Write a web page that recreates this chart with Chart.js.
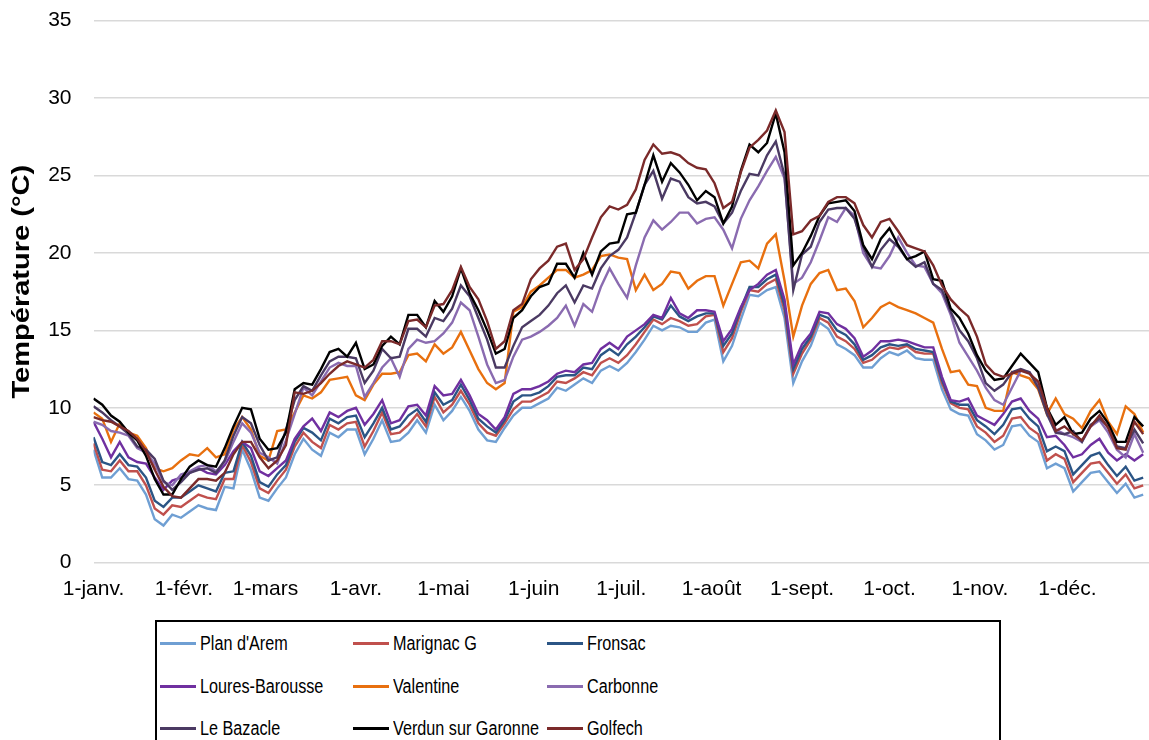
<!DOCTYPE html>
<html lang="fr">
<head>
<meta charset="utf-8">
<title>Température journalière moyenne</title>
<script src="https://cdn.jsdelivr.net/npm/chart.js@4.4.1/dist/chart.umd.min.js"></script>
<style>
  html, body { margin: 0; padding: 0; background: #ffffff; overflow: hidden; }
  #wrap { position: relative; width: 1149px; height: 740px; }
  #chart { position: absolute; left: 0; top: 0; }
  #legend {
    position: absolute; left: 155px; top: 620px; width: 846px; height: 140px;
    border: 2px solid #000; box-sizing: border-box; background: #fff;
    font-family: "Liberation Sans", Arial, Helvetica, sans-serif;
    font-size: 20px; color: #000;
  }
  .item { position: absolute; height: 24px; line-height: 24px; white-space: nowrap; }
  .swatch { position: absolute; left: 0; top: 11px; width: 36px; height: 3px; }
  .lbl { position: absolute; left: 40px; top: 0; transform: scaleX(0.81); transform-origin: 0 50%; }
</style>
</head>
<body>
<div id="wrap">
  <canvas id="chart" width="1149" height="740"></canvas>
  <div id="legend"></div>
</div>
<script>
// Day of year (0 = 1 January) of each sample
const sampleDays = [
  0, 3, 6, 9, 12, 15, 18, 21, 24, 27,
  30, 33, 36, 39, 42, 45, 48, 51, 54, 57,
  60, 63, 66, 69, 72, 75, 78, 81, 84, 87,
  90, 93, 96, 99, 102, 105, 108, 111, 114, 117,
  120, 123, 126, 129, 132, 135, 138, 141, 144, 147,
  150, 153, 156, 159, 162, 165, 168, 171, 174, 177,
  180, 183, 186, 189, 192, 195, 198, 201, 204, 207,
  210, 213, 216, 219, 222, 225, 228, 231, 234, 237,
  240, 243, 246, 249, 252, 255, 258, 261, 264, 267,
  270, 273, 276, 279, 282, 285, 288, 291, 294, 297,
  300, 303, 306, 309, 312, 315, 318, 321, 324, 327,
  330, 333, 336, 339, 342, 345, 348, 351, 354, 357,
  360
];

// Month tick positions (day of year) and their labels
const monthDays = [0, 31, 59, 90, 120, 151, 181, 212, 243, 273, 304, 334];
const monthLabels = ['1-janv.', '1-févr.', '1-mars', '1-avr.', '1-mai', '1-juin',
                     '1-juil.', '1-août', '1-sept.', '1-oct.', '1-nov.', '1-déc.'];

// Temperature axis ticks
const yTicks = [0, 5, 10, 15, 20, 25, 30, 35];
const yTitle = 'Température (°C)';

// Station names and line colours
const stations = ['Plan d\'Arem', 'Marignac G', 'Fronsac', 'Loures-Barousse', 'Valentine',
                  'Carbonne', 'Le Bazacle', 'Verdun sur Garonne', 'Golfech'];
const colors = ['#6f9fd3', '#c0504d', '#2b5585', '#7030a0', '#e8700f',
                '#8a6bb0', '#4b3a63', '#000000', '#7b2a2a'];

// Mean water temperature (°C) per station
const planDArem = [
  7.3, 5.5, 5.5, 6.1, 5.4, 5.3, 4.4, 2.8, 2.4, 3.1,
  2.9, 3.3, 3.7, 3.5, 3.4, 4.9, 4.8, 7.3, 6.0, 4.2,
  4.0, 4.8, 5.5, 7.0, 8.0, 7.3, 6.9, 8.4, 8.1, 8.6,
  8.6, 7.0, 8.0, 9.2, 7.8, 7.9, 8.4, 9.2, 8.4, 10.2,
  9.2, 9.8, 10.7, 9.8, 8.6, 7.9, 7.8, 8.7, 9.5, 10.0,
  10.0, 10.3, 10.6, 11.3, 11.1, 11.5, 11.9, 11.6, 12.4, 12.7,
  12.4, 12.9, 13.6, 14.4, 15.3, 15.0, 15.3, 15.2, 14.9, 14.9,
  15.5, 15.7, 13.0, 14.0, 15.7, 17.3, 17.2, 17.6, 17.8, 15.8,
  11.6, 13.0, 14.0, 15.5, 15.1, 14.1, 13.8, 13.4, 12.6, 12.6,
  13.2, 13.6, 13.4, 13.7, 13.2, 13.1, 13.1, 11.2, 9.9, 9.6,
  9.5, 8.3, 7.9, 7.3, 7.6, 8.8, 8.9, 8.2, 7.8, 6.1,
  6.4, 6.1, 4.6, 5.2, 5.8, 5.9, 5.2, 4.5, 5.1, 4.2,
  4.4
];
const marignacG = [
  7.7, 6.0, 5.9, 6.6, 5.9, 5.9, 5.0, 3.5, 3.1, 3.7,
  3.6, 4.0, 4.4, 4.2, 4.1, 5.4, 5.4, 7.6, 6.5, 4.8,
  4.5, 5.3, 6.0, 7.5, 8.4, 7.8, 7.4, 8.9, 8.6, 9.0,
  9.1, 7.5, 8.5, 9.7, 8.3, 8.4, 8.9, 9.6, 8.8, 10.7,
  9.7, 10.2, 11.1, 10.2, 9.0, 8.4, 8.2, 9.0, 9.9, 10.4,
  10.4, 10.7, 11.0, 11.7, 11.6, 11.9, 12.3, 12.1, 12.9, 13.2,
  12.9, 13.4, 14.1, 14.9, 15.7, 15.4, 15.8, 15.6, 15.3, 15.4,
  15.9, 16.0, 13.6, 14.5, 16.2, 17.6, 17.5, 18.0, 18.3, 16.3,
  12.2, 13.5, 14.4, 15.8, 15.5, 14.6, 14.3, 13.8, 12.9, 13.1,
  13.6, 13.9, 13.8, 14.0, 13.6, 13.5, 13.5, 11.6, 10.3, 10.0,
  9.9, 8.8, 8.4, 7.8, 8.2, 9.3, 9.4, 8.7, 8.3, 6.6,
  7.0, 6.7, 5.2, 5.8, 6.4, 6.5, 5.8, 5.1, 5.7, 4.8,
  5.0
];
const fronsac = [
  8.1, 6.5, 6.3, 7.0, 6.3, 6.2, 5.5, 4.0, 3.6, 4.2,
  4.2, 4.6, 5.0, 4.8, 4.6, 5.8, 5.9, 7.8, 6.9, 5.2,
  4.9, 5.7, 6.3, 7.8, 8.7, 8.4, 7.9, 9.3, 9.0, 9.4,
  9.5, 8.1, 9.0, 10.0, 8.6, 8.8, 9.5, 9.9, 9.1, 11.0,
  10.2, 10.5, 11.5, 10.5, 9.3, 8.8, 8.4, 9.2, 10.4, 10.8,
  10.8, 11.0, 11.4, 12.0, 12.1, 12.1, 12.6, 12.5, 13.4, 13.8,
  13.4, 14.1, 14.6, 15.2, 15.9, 15.7, 16.6, 15.9, 15.6, 15.9,
  16.1, 16.1, 14.0, 14.8, 16.4, 17.8, 17.8, 18.3, 18.6, 16.6,
  12.5, 13.8, 14.6, 16.0, 15.8, 15.0, 14.7, 14.1, 13.1, 13.4,
  13.9, 14.1, 14.0, 14.1, 13.8, 13.7, 13.6, 11.8, 10.4, 10.2,
  10.2, 9.2, 8.8, 8.3, 8.9, 9.9, 10.0, 9.3, 8.8, 7.2,
  7.5, 7.2, 5.7, 6.3, 6.9, 7.1, 6.3, 5.6, 6.2, 5.3,
  5.5
];
const louresBarousse = [
  9.1, 8.0, 6.8, 7.8, 6.8, 6.5, 6.4, 5.5, 4.7, 5.3,
  5.5, 5.8, 6.1, 5.8, 5.7, 6.3, 7.2, 7.8, 7.4, 5.9,
  5.6, 6.1, 6.6, 8.0, 8.8, 9.3, 8.5, 9.7, 9.4, 9.8,
  10.0, 8.9, 9.6, 10.5, 9.0, 9.2, 10.1, 10.2, 9.5, 11.4,
  10.8, 10.9, 11.8, 10.8, 9.6, 9.2, 8.6, 9.4, 10.9, 11.2,
  11.2, 11.4, 11.7, 12.2, 12.4, 12.3, 12.8, 12.9, 13.8, 14.2,
  13.8, 14.6, 15.0, 15.4, 16.0, 15.8, 17.1, 16.1, 15.8, 16.3,
  16.3, 16.2, 14.3, 15.1, 16.5, 17.6, 18.0, 18.6, 18.9, 17.0,
  12.8, 14.1, 14.8, 16.2, 16.1, 15.4, 15.1, 14.5, 13.3, 13.7,
  14.3, 14.3, 14.4, 14.3, 14.1, 13.9, 13.9, 12.0, 10.5, 10.4,
  10.6, 9.5, 9.2, 8.9, 9.6, 10.4, 10.6, 9.8, 9.3, 8.1,
  8.2, 7.6, 6.8, 7.0, 7.6, 8.0, 7.1, 6.6, 7.0, 6.6,
  7.0
];
const valentine = [
  9.7, 9.3, 7.8, 9.0, 8.4, 8.2, 7.4, 6.1, 5.9, 6.1,
  6.6, 7.0, 6.9, 7.4, 6.8, 7.0, 8.6, 9.4, 8.6, 6.9,
  6.6, 8.5, 8.6, 9.7, 10.8, 10.6, 11.0, 11.8, 11.9, 12.0,
  10.8, 10.5, 11.5, 12.2, 12.2, 12.3, 13.4, 13.5, 13.0, 14.1,
  13.5, 13.9, 14.9, 13.7, 12.5, 11.6, 11.2, 11.6, 16.2, 16.5,
  17.5, 17.9, 18.4, 18.9, 18.9, 18.4, 18.6, 18.9, 19.8, 19.9,
  19.7, 19.6, 17.6, 18.6, 17.6, 18.0, 18.8, 18.7, 17.7, 18.2,
  18.5, 18.5, 16.6, 18.0, 19.4, 19.5, 19.0, 20.6, 21.2, 18.2,
  14.6, 16.6, 18.0, 18.7, 18.9, 17.6, 17.7, 16.9, 15.2, 15.8,
  16.5, 16.8, 16.5, 16.3, 16.1, 15.8, 15.5, 13.8, 12.3, 12.4,
  11.5, 11.4, 10.0, 9.8, 9.8, 12.3, 12.1, 11.9, 11.2, 9.6,
  10.6, 9.6, 9.3, 8.7, 9.8, 10.5, 9.1, 8.3, 10.1, 9.6,
  8.4
];
const carbonne = [
  9.1, 8.9, 8.5, 8.4, 8.2, 7.4, 7.1, 6.4, 5.2, 5.0,
  5.7, 5.9, 6.2, 6.3, 5.9, 6.5, 7.8, 9.0, 8.4, 7.1,
  6.8, 6.4, 7.9, 9.6, 11.3, 10.8, 11.7, 12.6, 12.9, 12.7,
  12.7, 10.7, 11.6, 12.6, 13.2, 12.0, 13.8, 14.4, 14.2, 14.3,
  14.8, 15.5, 16.8, 16.3, 14.6, 12.8, 11.6, 11.8, 13.3, 14.4,
  14.6, 14.9, 15.3, 15.8, 16.6, 15.3, 16.7, 16.2, 17.8, 19.0,
  18.0, 17.1, 19.2, 21.0, 22.1, 21.5, 22.0, 22.6, 22.6, 21.9,
  22.2, 22.3, 21.5, 20.3, 22.2, 23.4, 24.3, 25.3, 26.2, 24.8,
  18.0, 18.4, 19.4, 20.8, 22.3, 22.0, 22.9, 22.4, 20.0, 19.1,
  19.0, 19.8, 21.0, 20.0, 19.2, 19.1, 18.0, 17.4, 16.0, 14.2,
  13.3, 12.4, 11.3, 10.5, 10.2, 11.3, 12.4, 12.3, 11.5, 10.0,
  8.6, 8.3, 8.1, 7.8, 8.8, 9.2, 8.4, 7.3, 6.8, 8.3,
  7.1
];
const leBazacle = [
  10.1, 9.7, 9.2, 8.8, 8.3, 7.5, 7.3, 6.7, 5.3, 4.7,
  5.2, 5.8, 6.0, 6.1, 5.8, 6.6, 8.2, 9.4, 9.0, 7.6,
  6.6, 6.8, 8.6, 10.5, 11.4, 11.1, 12.1, 13.0, 13.3, 13.3,
  13.2, 11.6, 12.4, 13.8, 13.2, 13.3, 15.1, 15.1, 14.6, 15.8,
  15.6, 16.4, 17.9, 17.2, 15.8, 14.4, 12.6, 12.6, 14.0, 15.2,
  15.6, 16.0, 16.6, 17.4, 17.9, 16.8, 17.9, 17.7, 19.0, 19.8,
  20.2, 21.0, 22.6, 24.4, 25.3, 23.5, 24.8, 24.6, 23.6, 23.2,
  23.3, 23.0, 21.9, 22.6, 24.0, 25.1, 25.0, 26.3, 27.2, 25.0,
  17.6, 19.9, 20.4, 22.0, 22.8, 22.9, 22.9, 22.2, 20.4, 19.1,
  20.2, 20.9, 20.4, 19.6, 19.1, 19.4, 18.0, 17.6, 16.2, 15.0,
  14.3, 13.2, 11.6, 11.1, 11.5, 12.3, 12.5, 12.3, 11.3, 9.6,
  8.4, 8.3, 8.5, 7.8, 8.9, 9.3, 8.8, 7.5, 7.4, 8.6,
  7.7
];
const verdunSurGaronne = [
  10.6, 10.2, 9.5, 9.1, 8.4, 7.9, 6.9, 5.4, 4.4, 4.4,
  5.4, 6.2, 6.6, 6.3, 6.2, 7.4, 8.8, 10.0, 9.9, 8.0,
  7.3, 7.4, 8.4, 11.2, 11.6, 11.5, 12.5, 13.6, 13.8, 13.3,
  14.2, 12.5, 12.8, 14.0, 14.6, 14.1, 16.0, 16.0, 15.2, 16.9,
  16.2, 17.2, 19.0, 17.4, 16.3, 15.0, 13.5, 13.8, 15.8, 16.3,
  17.2, 17.8, 18.0, 19.3, 19.3, 18.4, 20.0, 18.6, 20.1, 20.6,
  20.7, 22.5, 22.6, 24.4, 26.3, 24.6, 25.8, 25.2, 24.4, 23.4,
  24.0, 23.6, 21.9, 23.0, 25.3, 27.0, 26.5, 27.1, 29.0, 26.5,
  19.2, 20.0, 21.1, 22.4, 23.2, 23.3, 23.4, 22.7, 20.5, 19.6,
  20.9, 21.6, 20.5, 19.6, 19.8, 20.1, 18.3, 18.2, 16.4, 15.8,
  14.8, 13.4, 12.4, 11.8, 11.9, 12.7, 13.5, 12.9, 12.3, 10.0,
  8.9, 9.4, 8.3, 8.4, 9.3, 9.8, 9.0, 7.8, 7.8, 9.4,
  8.8
];
const golfech = [
  9.4, 9.2, 9.1, 8.8, 8.5, 8.0, 7.2, 6.0, 4.9, 4.3,
  4.2, 4.8, 5.4, 5.4, 5.3, 5.8, 7.0, 7.8, 7.8, 6.8,
  6.1, 6.6, 7.6, 11.0, 10.9, 11.1, 11.6, 12.2, 12.7, 13.0,
  12.8, 12.6, 13.1, 14.3, 14.3, 14.1, 15.6, 15.7, 15.2, 16.6,
  16.7, 17.6, 19.1, 17.8, 17.0, 15.6, 13.8, 14.3, 16.3, 16.7,
  18.3, 19.0, 19.5, 20.4, 20.6, 18.9, 19.6, 21.0, 22.3, 23.0,
  22.8, 23.1, 24.1, 26.0, 27.0, 26.4, 26.5, 26.3, 25.8, 25.5,
  25.4, 24.5, 22.9, 23.3, 25.2, 26.8, 27.3, 27.9, 29.2, 27.8,
  21.2, 21.4, 22.1, 22.4, 23.3, 23.6, 23.6, 23.2, 21.8, 21.0,
  22.0, 22.2, 21.4, 20.5, 20.3, 20.1, 19.2, 17.9, 17.0, 16.4,
  15.9, 14.6, 12.8, 12.2, 12.0, 12.2, 12.4, 12.2, 11.7, 10.0,
  8.5, 8.8, 8.3, 7.9, 8.8, 9.5, 8.7, 7.4, 7.3, 9.1,
  8.3
];

const seriesValues = [planDArem, marignacG, fronsac, louresBarousse, valentine,
                      carbonne, leBazacle, verdunSurGaronne, golfech];

const FONT = '"Liberation Sans", Arial, Helvetica, sans-serif';

const datasets = stations.map((name, i) => ({
  label: name,
  data: seriesValues[i].map((v, k) => ({ x: sampleDays[k], y: v })),
  borderColor: colors[i],
  backgroundColor: colors[i],
  borderWidth: 2.4,
  pointRadius: 0,
  pointHoverRadius: 0,
  tension: 0,
  fill: false,
  // later stations are painted over earlier ones
  order: stations.length - 1 - i
}));

// Vertical axis title, drawn rotated and slightly stretched along its length
const axisTitlePlugin = {
  id: 'axisTitle',
  afterDraw(chart) {
    const { ctx, chartArea } = chart;
    ctx.save();
    ctx.translate(22, (chartArea.top + chartArea.bottom) / 2 - 10);
    ctx.rotate(-Math.PI / 2);
    ctx.scale(1.21, 1);
    ctx.font = 'bold 24px ' + FONT;
    ctx.fillStyle = '#000';
    ctx.textAlign = 'center';
    ctx.textBaseline = 'middle';
    ctx.fillText(yTitle, 0, 0);
    ctx.restore();
  }
};

new Chart(document.getElementById('chart'), {
  type: 'line',
  data: { datasets },
  plugins: [axisTitlePlugin],
  options: {
    responsive: false,
    animation: false,
    events: [],
    layout: { padding: { left: 0, right: 0, top: 20.6, bottom: 137.3 } },
    plugins: {
      legend: { display: false },
      tooltip: { enabled: false }
    },
    scales: {
      x: {
        type: 'linear',
        min: 0,
        max: 362,
        grid: { display: false, drawTicks: false },
        border: { display: false },
        afterBuildTicks: (scale) => { scale.ticks = monthDays.map(v => ({ value: v })); },
        afterFit: (scale) => { scale.height = 40; },
        ticks: {
          autoSkip: false,
          maxRotation: 0,
          padding: 14,
          color: '#000',
          font: { family: FONT, size: 21 },
          callback: (v) => monthLabels[monthDays.indexOf(v)]
        }
      },
      y: {
        min: 0,
        max: 35,
        afterBuildTicks: (scale) => { scale.ticks = yTicks.map(v => ({ value: v })); },
        afterFit: (scale) => {
          scale.width = 93.5;
          scale.paddingTop = 0;
          scale.paddingBottom = 0;
        },
        grid: { color: '#d9d9d9', lineWidth: 1.6, drawTicks: false },
        border: { display: false },
        ticks: {
          padding: 22,
          color: '#000',
          font: { family: FONT, size: 21 }
        },
        title: { display: false }
      }
    }
  }
});

// Legend: three columns, three rows, built from the same station list
const legend = document.getElementById('legend');
const colX = [3, 196, 390];     // offsets inside the legend box
const rowY = [9, 52, 94];
stations.forEach((name, i) => {
  const item = document.createElement('div');
  item.className = 'item';
  item.style.left = colX[i % 3] + 'px';
  item.style.top = rowY[Math.floor(i / 3)] + 'px';
  const sw = document.createElement('span');
  sw.className = 'swatch';
  sw.style.background = colors[i];
  const lb = document.createElement('span');
  lb.className = 'lbl';
  lb.textContent = name;
  item.appendChild(sw);
  item.appendChild(lb);
  legend.appendChild(item);
});
</script>
</body>
</html>
